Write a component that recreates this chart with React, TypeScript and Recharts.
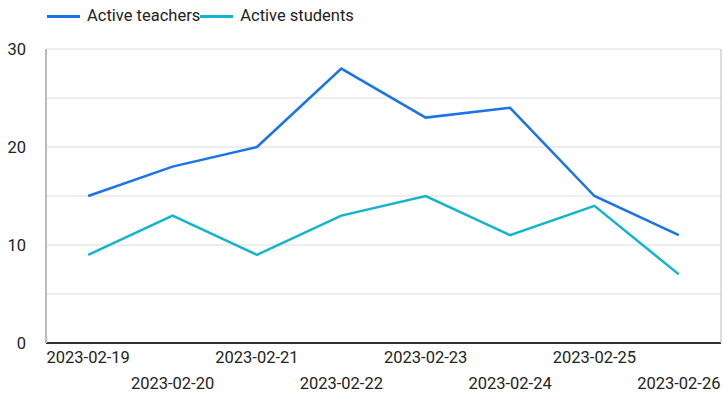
import { LineChart, Line, XAxis, YAxis, CartesianGrid, ReferenceLine, Legend } from 'recharts';

const dates = ['2023-02-19', '2023-02-20', '2023-02-21', '2023-02-22', '2023-02-23', '2023-02-24', '2023-02-25', '2023-02-26'];
const teachers = [15, 18, 20, 28, 23, 24, 15, 11];
const students = [9, 13, 9, 13, 15, 11, 14, 7];
const yTicks = [0, 10, 20, 30];
const minorLines = [5, 15, 25];

const data = dates.map((date, i) => ({ date, teachers: teachers[i], students: students[i] }));

const FONT = 'Roboto, "Noto Sans", sans-serif';

const DateTick = ({ x, y, payload, index }: any) => (
  <text
    x={x}
    y={y + (index % 2 === 1 ? 26 : 0)}
    dy={12}
    textAnchor="middle"
    fill="#222"
    fontSize={16.5}
    fontFamily={FONT}
  >
    {payload.value}
  </text>
);

const LegendContent = ({ payload }: any) => (
  <div style={{ display: 'flex', alignItems: 'center', fontFamily: FONT, fontSize: 16.5, color: '#222', lineHeight: '20px' }}>
    {payload.map((entry: any) => (
      <span key={entry.value} style={{ display: 'flex', alignItems: 'center' }}>
        <span style={{ display: 'inline-block', width: 33, height: 3, background: entry.color, marginRight: 7 }} />
        <span>{entry.value}</span>
      </span>
    ))}
  </div>
);

export default function App() {
  return (
    <div style={{ position: 'absolute', left: 0, top: 0, width: 724, height: 393, background: '#fff' }}>
      <LineChart width={724} height={393} data={data} margin={{ top: 29, right: 2, left: 0, bottom: 0 }}>
        <CartesianGrid vertical={false} stroke="#dcdcdc" />
        {minorLines.map((v) => (
          <ReferenceLine key={v} y={v} stroke="#dcdcdc" />
        ))}
        <XAxis
          dataKey="date"
          scale="band"
          interval={0}
          tickLine={false}
          axisLine={{ stroke: '#333', strokeWidth: 2 }}
          tick={<DateTick />}
          height={50}
        />
        <YAxis
          domain={[0, 30]}
          ticks={yTicks}
          tickLine={false}
          axisLine={{ stroke: '#bbb', strokeWidth: 2 }}
          width={46}
          tickMargin={14}
          tick={{ fill: '#222', fontSize: 16.5, fontFamily: FONT }}
        />
        <YAxis
          yAxisId="right"
          orientation="right"
          domain={[0, 30]}
          tick={false}
          tickLine={false}
          axisLine={{ stroke: '#bbb', strokeWidth: 1 }}
          width={1}
        />
        <Legend
          verticalAlign="top"
          align="left"
          itemSorter={null}
          content={<LegendContent />}
          wrapperStyle={{ top: 6, left: 47 }}
        />
        <Line
          dataKey="teachers"
          name="Active teachers"
          stroke="#1a73e8"
          strokeWidth={2.5}
          dot={false}
          isAnimationActive={false}
        />
        <Line
          dataKey="students"
          name="Active students"
          stroke="#12b5cb"
          strokeWidth={2.5}
          dot={false}
          isAnimationActive={false}
        />
      </LineChart>
    </div>
  );
}
